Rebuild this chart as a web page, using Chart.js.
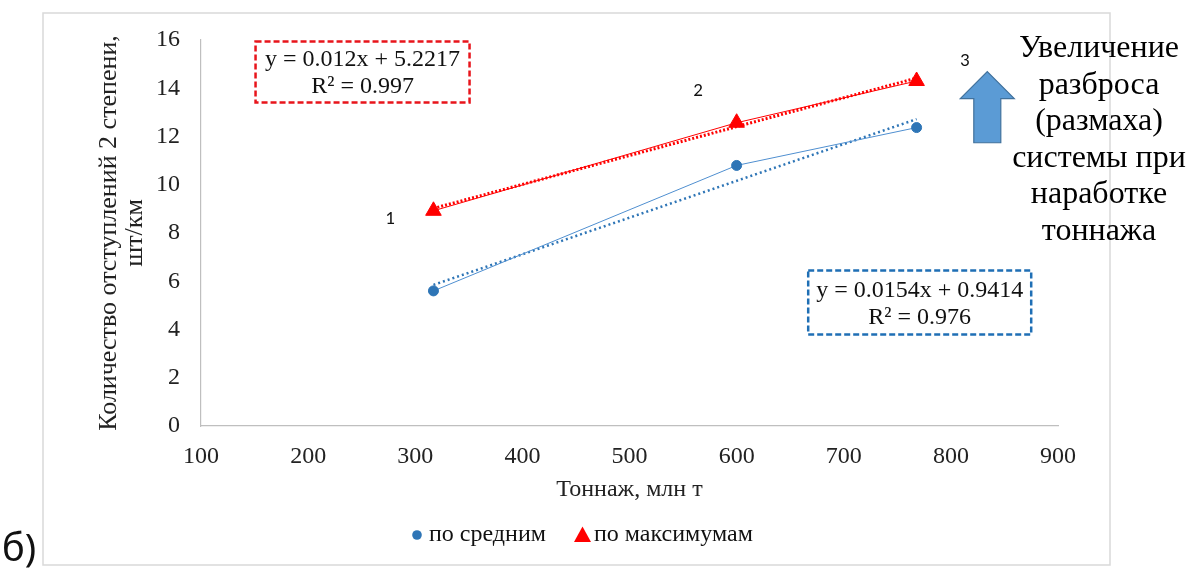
<!DOCTYPE html>
<html>
<head>
<meta charset="utf-8">
<script src="https://cdn.jsdelivr.net/npm/chart.js@4.4.1/dist/chart.umd.min.js"></script>
<style>
  html, body { margin: 0; padding: 0; background: #fff; }
  #wrap { width: 1191px; height: 568px; position: relative; }
</style>
</head>
<body>
<div id="wrap"><canvas id="myChart" width="1191" height="568"></canvas></div>
<script>
// Данные
const tonnage = [317, 600, 768];
const avgValues = [5.6, 10.8, 12.37];
const maxValues = [8.92, 12.57, 14.3];
// концы линий тренда (по рисунку)
const trendX = [317, 768];
const avgTrend = [5.85, 12.72];
const maxTrend = [9.02, 14.42];
const xTicks = [100, 200, 300, 400, 500, 600, 700, 800, 900];
const yTicks = [0, 2, 4, 6, 8, 10, 12, 14, 16];
const seriesNames = ['по средним', 'по максимумам'];
const eqAvg = ['y = 0.0154x + 0.9414', 'R² = 0.976'];
const eqMax = ['y = 0.012x + 5.2217', 'R² = 0.997'];
const noteLines = ['Увеличение', 'разброса', '(размаха)', 'системы при', 'наработке', 'тоннажа'];

const serif = "'Liberation Serif', 'Times New Roman', serif";
const BLUE = '#2e75b6';
const RED = '#ff0000';

function pts(xs, ys) { return xs.map((x, i) => ({ x: x, y: ys[i] })); }

// рамка, подписи, стрелка, легенда
const extras = {
    id: 'extras',
    beforeDraw(chart) {
        const c = chart.ctx;
        c.save();
        c.strokeStyle = '#d9d9d9';
        c.lineWidth = 1.5;
        c.strokeRect(43, 13, 1067, 552);
        c.restore();
    },
    afterDraw(chart) {
        const c = chart.ctx;
        const xs = chart.scales.x, ys = chart.scales.y;
        c.save();

        function eqBox(lines, cx, cy, w, h, color) {
            const px = xs.getPixelForValue(cx), py = ys.getPixelForValue(cy);
            c.setLineDash([6, 3]);
            c.lineWidth = 2.5;
            c.strokeStyle = color;
            c.strokeRect(px - w / 2, py - h / 2, w, h);
            c.setLineDash([]);
            c.fillStyle = '#111';
            c.font = '24px ' + serif;
            c.textAlign = 'center';
            c.textBaseline = 'middle';
            c.fillText(lines[0], px, py - 12);
            c.fillText(lines[1], px, py + 15);
        }
        eqBox(eqMax, 250.8, 14.67, 214, 61, '#e8141b');
        eqBox(eqAvg, 770.9, 5.12, 223, 64, '#1f6fb5');

        // номера точек
        c.font = '19px Carlito, Calibri, "Liberation Sans", sans-serif';
        c.fillStyle = '#111';
        c.textAlign = 'center';
        c.textBaseline = 'middle';
        [['1', 276.5, 8.55], ['2', 564, 13.86], ['3', 813, 15.1]].forEach(a => {
            c.fillText(a[0], xs.getPixelForValue(a[1]), ys.getPixelForValue(a[2]));
        });

        // стрелка вверх
        const ax = xs.getPixelForValue(834);
        const top = ys.getPixelForValue(14.69), bot = ys.getPixelForValue(11.74);
        c.beginPath();
        c.moveTo(ax, top);
        c.lineTo(ax + 27, top + 27);
        c.lineTo(ax + 13.5, top + 27);
        c.lineTo(ax + 13.5, bot);
        c.lineTo(ax - 13.5, bot);
        c.lineTo(ax - 13.5, top + 27);
        c.lineTo(ax - 27, top + 27);
        c.closePath();
        c.fillStyle = '#5b9bd5';
        c.fill();
        c.strokeStyle = '#41719c';
        c.lineWidth = 1.2;
        c.stroke();

        // текст справа
        c.fillStyle = '#000';
        c.font = '32px ' + serif;
        noteLines.forEach((t, i) => c.fillText(t, 1099, 49 + i * 36.5));

        // легенда
        const ly = 535;
        c.fillStyle = BLUE;
        c.beginPath();
        c.arc(417, ly, 4.8, 0, Math.PI * 2);
        c.fill();
        c.fillStyle = RED;
        c.beginPath();
        c.moveTo(582.5, ly - 8.5);
        c.lineTo(591, ly + 7);
        c.lineTo(574, ly + 7);
        c.closePath();
        c.fill();
        c.fillStyle = '#111';
        c.font = '24px ' + serif;
        c.textAlign = 'left';
        c.fillText(seriesNames[0], 429, ly);
        c.fillText(seriesNames[1], 594, ly);

        // б)
        c.font = '38px "Noto Sans", "DejaVu Sans", sans-serif';
        c.textBaseline = 'alphabetic';
        c.fillText('б)', 2, 561);
        c.restore();
    }
};

document.addEventListener('DOMContentLoaded', () => {
    const ctx = document.getElementById('myChart').getContext('2d');

    new Chart(ctx, {
        type: 'scatter',
        data: {
            datasets: [
                {
                    label: seriesNames[0],
                    data: pts(tonnage, avgValues),
                    showLine: true,
                    borderColor: '#4f8fd0',
                    borderWidth: 1,
                    backgroundColor: BLUE,
                    pointStyle: 'circle',
                    pointRadius: 5,
                    pointBorderColor: BLUE,
                    order: 1
                },
                {
                    label: seriesNames[1],
                    data: pts(tonnage, maxValues),
                    showLine: true,
                    borderColor: RED,
                    borderWidth: 1,
                    backgroundColor: RED,
                    pointStyle: 'triangle',
                    pointRadius: 9,
                    pointBorderColor: RED,
                    order: 1
                },
                {
                    label: 'trend1',
                    data: pts(trendX, avgTrend),
                    showLine: true,
                    borderColor: BLUE,
                    borderWidth: 2.5,
                    borderDash: [2, 3],
                    pointRadius: 0,
                    order: 2
                },
                {
                    label: 'trend2',
                    data: pts(trendX, maxTrend),
                    showLine: true,
                    borderColor: RED,
                    borderWidth: 3,
                    borderDash: [2, 2],
                    pointRadius: 0,
                    order: 2
                }
            ]
        },
        options: {
            responsive: false,
            animation: false,
            layout: { padding: { left: 43, right: 133, top: 40, bottom: 0 } },
            scales: {
                x: {
                    type: 'linear',
                    min: 100, max: 900,
                    afterBuildTicks: s => { s.ticks = xTicks.map(v => ({ value: v })); },
                    afterFit: s => { s.height = 142; },
                    grid: { display: false, drawTicks: false },
                    border: { color: '#bfbfbf', width: 1.2 },
                    ticks: { padding: 16, color: '#222', font: { family: serif, size: 24 } },
                    title: {
                        display: true, text: 'Тоннаж, млн т', color: '#222',
                        font: { family: serif, size: 24 }, padding: { top: 0, bottom: 64 }
                    }
                },
                y: {
                    min: 0, max: 16,
                    afterBuildTicks: s => { s.ticks = yTicks.map(v => ({ value: v })); },
                    afterFit: s => { s.width = 158; },
                    grid: { display: false, drawTicks: false },
                    border: { color: '#bfbfbf', width: 1.2 },
                    ticks: { padding: 21, color: '#222', font: { family: serif, size: 24 } },
                    title: {
                        display: true,
                        text: ['Количество отступлений 2 степени,', 'шт/км'],
                        color: '#222',
                        font: { family: serif, size: 26, lineHeight: 1.0 },
                        padding: { top: 53, bottom: 0 }
                    }
                }
            },
            plugins: {
                legend: { display: false },
                tooltip: { enabled: false }
            }
        },
        plugins: [extras]
    });
});
</script>
</body>
</html>
